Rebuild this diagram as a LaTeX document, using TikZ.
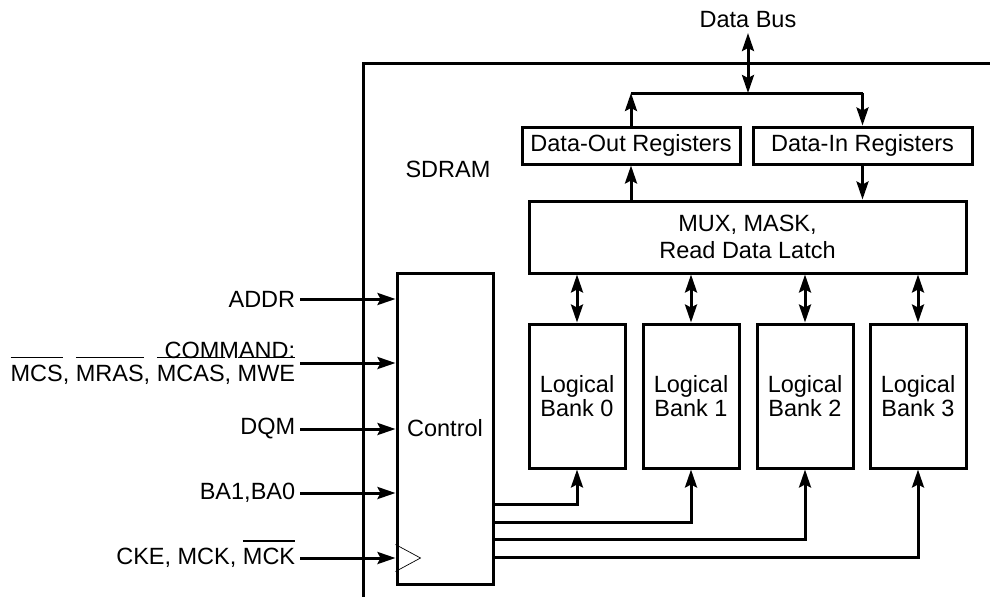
\documentclass[tikz,border=0pt]{standalone}
\usepackage{fontspec}
\setmainfont{Liberation Sans}
\usetikzlibrary{arrows.meta}
\newcommand{\ovl}[1]{\setbox0\hbox{#1}\rlap{\smash{\rule[23pt]{\wd0}{1.4pt}}}\box0}

\begin{document}
\begin{tikzpicture}[x=1pt,y=-1pt,line width=3pt,
    >={Stealth[length=18pt,width=12pt,inset=3pt]},
    every node/.style={font=\fontsize{23.5}{24}\selectfont},
    box/.style={draw,inner sep=0pt,align=center},
    bankbox/.style={box,minimum width=96pt,minimum height=144pt},
    sig/.style={anchor=east,align=right}]
  \useasboundingbox (0,0) rectangle (990,597);

  % chip outline
  \draw (990,63) -| (363,597);
  \node (sdram) at (448,169) {SDRAM};

  % data path
  \node (databus) at (748,20) {Data Bus};
  \coordinate (bus) at (748,93);
  \node[box,minimum width=218pt,minimum height=37pt] (dout) at (631,145.5) {Data-Out Registers};
  \node[box,minimum width=219pt,minimum height=37pt] (din) at (862.5,145.5) {Data-In Registers};
  \node[box,minimum width=437pt,minimum height=72pt] (mux) at (747.5,237) {MUX, MASK,\\[3pt] Read Data Latch};

  \node[bankbox] (bank0) at (577,396) {Logical\\Bank 0};
  \node[bankbox] (bank1) at (691,396) {Logical\\Bank 1};
  \node[bankbox] (bank2) at (805,396) {Logical\\Bank 2};
  \node[bankbox] (bank3) at (918,396) {Logical\\Bank 3};

  \node[box,minimum width=96pt,minimum height=311pt] (ctrl) at (445,428.5) {Control};

  \draw[<->] (databus.south) -- (bus);
  \draw (dout.north |- bus) -- (din.north |- bus);
  \draw[->] (dout.north) -- (dout.north |- bus);
  \draw[->] (din.north |- bus) -- (din.north);
  \draw[->] (dout.south |- mux.north) -- (dout.south);
  \draw[->] (din.south) -- (din.south |- mux.north);

  \draw[<->] (bank0.north |- mux.south) -- (bank0.north);
  \draw[<->] (bank1.north |- mux.south) -- (bank1.north);
  \draw[<->] (bank2.north |- mux.south) -- (bank2.north);
  \draw[<->] (bank3.north |- mux.south) -- (bank3.north);

  % control to banks
  \draw[->] (ctrl.east |- 0,504) -| (bank0.south);
  \draw[->] (ctrl.east |- 0,522) -| (bank1.south);
  \draw[->] (ctrl.east |- 0,539) -| (bank2.south);
  \draw[->] (ctrl.east |- 0,557) -| (bank3.south);

  % inputs
  \node[sig] (addr) at (300,299) {ADDR};
  \node[sig,font=\fontsize{23.5}{23}\selectfont] (cmd) at (300,363) {COMMAND:\\\ovl{MCS}, \ovl{MRAS}, \ovl{MCAS}, \ovl{MWE}};
  \node[sig] (dqm) at (300,429) {DQM};
  \node[sig] (ba) at (300,493) {BA1,BA0};
  \node[sig] (cke) at (300,558) {CKE, MCK, \ovl{MCK}};

  \draw[->] (addr) -- (addr -| ctrl.west);
  \draw[->] (cmd) -- (cmd -| ctrl.west);
  \draw[->] (dqm) -- (dqm -| ctrl.west);
  \draw[->] (ba) -- (ba -| ctrl.west);
  \draw[->] (cke) -- (cke -| ctrl.west);

  % clock input mark
  \draw[line width=0.7pt] ([yshift=13.5pt]ctrl.west |- cke) -- ([xshift=25pt]ctrl.west |- cke)
    -- ([yshift=-13.5pt]ctrl.west |- cke);
\end{tikzpicture}
\end{document}
